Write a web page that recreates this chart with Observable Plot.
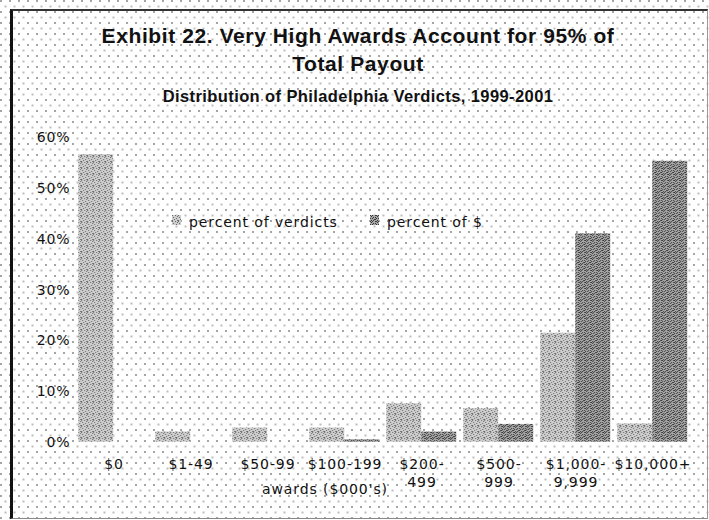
<!DOCTYPE html>
<html>
<head>
<meta charset="utf-8">
<script src="https://cdn.jsdelivr.net/npm/d3@7"></script>
<script src="https://cdn.jsdelivr.net/npm/@observablehq/plot@0.6"></script>
<style>
  body { margin: 0; background: #fff; }
  #chart {
    position: relative; width: 709px; height: 520px; overflow: hidden;
    font-family: "DejaVu Sans", sans-serif; color: #111;
    background-color: #fff;
    background-image:
      radial-gradient(circle at 1px 1px, #a5a5a5 0.75px, transparent 1.05px),
      radial-gradient(circle at 1px 1px, #bdbdbd 0.75px, transparent 1.05px);
    background-size: 9px 11px, 9px 11px;
    background-position: 0 0, 4.5px 5.5px;
  }
  #frame {
    position: absolute; left: 10px; top: 9px; width: 698px; height: 510px;
    box-sizing: border-box;
    border-top: 2px solid #333; border-left: 3px solid #111;
    border-right: 1px solid #999; border-bottom: 1px solid #888;
  }
  .title {
    position: absolute; left: 0; width: 716px; text-align: center; white-space: nowrap;
    font-family: "Liberation Sans", Arial, sans-serif; font-weight: bold; color: #111;
  }
  .t1 { font-size: 21px; line-height: 21px; letter-spacing: 0.6px; }
  .t2 { font-size: 16.5px; line-height: 16.5px; letter-spacing: 0.4px; }
  .lbl {
    position: absolute; font-size: 14px; line-height: 14px; letter-spacing: 0.9px;
    white-space: nowrap; color: #111;
  }
  .sw { position: absolute; width: 9px; height: 10px; }
  #plot { position: absolute; left: 0; top: 120px; }
  #plot svg text { letter-spacing: 0.9px; }
</style>
</head>
<body>
<div id="chart">
  <div id="frame"></div>
  <div class="title t1" style="top:25px">Exhibit 22. Very High Awards Account for 95% of</div>
  <div class="title t1" style="top:53px">Total Payout</div>
  <div class="title t2" style="top:88px">Distribution of Philadelphia Verdicts, 1999-2001</div>
  <div id="plot"></div>
  <div id="legend"></div>
  <div class="lbl" id="xlabel" style="left:262px;top:482px"></div>
</div>
<script>
// Award size brackets ($000's) and their axis labels
const categories = ["$0", "$1-49", "$50-99", "$100-199", "$200-499", "$500-999", "$1,000-9,999", "$10,000+"];
const tickLabels = ["$0", "$1-49", "$50-99", "$100-199", "$200-\n499", "$500-\n999", "$1,000-\n9,999", "$10,000+"];

// Share of verdicts and share of total dollars paid, in percent
const pctVerdicts = [56.7, 2.0, 2.8, 2.8, 7.6, 6.6, 21.5, 3.6];
const pctDollars  = [0, 0, 0, 0.5, 2.0, 3.5, 41.1, 55.4];

const seriesNames = ["percent of verdicts", "percent of $"];
const yTicks = [0, 10, 20, 30, 40, 50, 60];
const xTitle = "awards ($000's)";

// Stippled fills for the two series: a base tone with scattered darker specks
const patterns = [
  {id: "stippleLight", base: "#cdcdcd", dot: "#6c6c6c",
   dots: [[0, 0], [3, 0], [5, 1], [1, 2], [4, 3], [2, 4], [0, 5], [5, 5]]},
  {id: "stippleDark", base: "#a6a6a6", dot: "#3a3a3a",
   dots: [[0, 0], [2, 0], [5, 0], [1, 1], [3, 2], [5, 2], [0, 3], [2, 3], [4, 4], [1, 5], [3, 5], [5, 4]]}
];
const seriesFills = patterns.map(p => `url(#${p.id})`);

const data = categories.flatMap((c, i) => [
  {category: c, series: seriesNames[0], value: pctVerdicts[i]},
  {category: c, series: seriesNames[1], value: pctDollars[i]}
]);
const labelOf = new Map(categories.map((c, i) => [c, tickLabels[i]]));

const chart = Plot.plot({
  width: 709,
  height: 400,
  marginLeft: 74.8,
  marginRight: 18.2,
  marginTop: 17.5,
  marginBottom: 78.3,
  style: {background: "transparent", fontFamily: "DejaVu Sans, sans-serif", fontSize: "14px", color: "#111"},
  fx: {domain: categories, paddingInner: 0.084, paddingOuter: 0.042, label: null},
  x: {domain: seriesNames, padding: 0, axis: null},
  y: {domain: [0, 60], label: null},
  color: {domain: seriesNames, range: seriesFills},
  marks: [
    Plot.axisY({ticks: yTicks, tickSize: 0, tickPadding: 8, tickFormat: d => d + "%", label: null}),
    Plot.axisFx({anchor: "bottom", tickSize: 0, tickPadding: 14, lineHeight: 1.3, tickFormat: d => labelOf.get(d), label: null}),
    Plot.barY(data, {fx: "category", x: "series", y: "value", fill: "series"})
  ]
});

// Pattern definitions used by the bars and legend swatches
const defs = d3.select(chart).insert("defs", ":first-child");
patterns.forEach(p => {
  const pat = defs.append("pattern")
    .attr("id", p.id).attr("patternUnits", "userSpaceOnUse")
    .attr("width", 6).attr("height", 6);
  pat.append("rect").attr("width", 6).attr("height", 6).attr("fill", p.base);
  p.dots.forEach(([dx, dy]) => pat.append("rect")
    .attr("x", dx).attr("y", dy).attr("width", 1).attr("height", 1).attr("fill", p.dot));
});
document.getElementById("plot").append(chart);

// In-plot legend
const legend = document.getElementById("legend");
const legendPos = [{sw: 172, tx: 189}, {sw: 370, tx: 387}];
seriesNames.forEach((name, i) => {
  const sw = d3.create("svg").attr("class", "sw")
    .style("left", legendPos[i].sw + "px").style("top", "215px")
    .attr("width", 9).attr("height", 10);
  sw.append("rect").attr("width", 9).attr("height", 10).attr("fill", seriesFills[i]);
  legend.append(sw.node());
  const t = document.createElement("div");
  t.className = "lbl";
  t.style.left = legendPos[i].tx + "px";
  t.style.top = "215px";
  t.textContent = name;
  legend.append(t);
});
document.getElementById("xlabel").textContent = xTitle;
</script>
</body>
</html>
